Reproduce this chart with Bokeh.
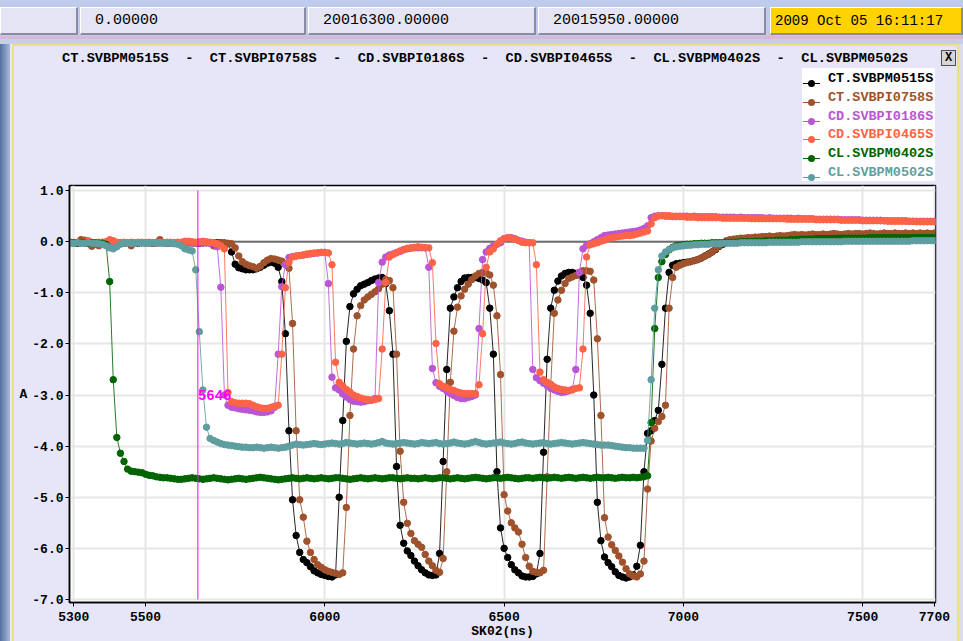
from bokeh.plotting import figure
from bokeh.models import (Range1d, FixedTicker, Label, Div,
                          ColumnDataSource, Span, PrintfTickFormatter)
from bokeh.layouts import column
from bokeh.embed import file_html
from bokeh.resources import INLINE

# ---------------- data ----------------
t_ns = list(range(5290, 7701, 10))

names = ["CT.SVBPM0515S", "CT.SVBPI0758S", "CD.SVBPI0186S",
         "CD.SVBPI0465S", "CL.SVBPM0402S", "CL.SVBPM0502S"]

ct0515 = [
    -0.02,-0.02,-0.03,-0.02,-0.02,-0.02,-0.03,-0.02,-0.02,-0.02,
    -0.02,-0.03,-0.02,-0.02,-0.02,-0.03,-0.02,-0.02,-0.02,-0.03,
    -0.02,-0.02,-0.02,-0.03,-0.02,-0.02,-0.02,-0.03,-0.02,-0.02,
    -0.02,-0.02,-0.03,-0.02,-0.02,-0.02,-0.03,-0.02,-0.02,-0.02,
    -0.02,-0.02,-0.02,-0.03,-0.04,-0.20,-0.44,-0.51,-0.53,-0.55,
    -0.55,-0.55,-0.53,-0.50,-0.46,-0.42,-0.40,-0.42,-0.50,-0.78,
    -1.80,-3.70,-5.05,-5.75,-6.08,-6.22,-6.28,-6.36,-6.44,-6.48,
    -6.51,-6.53,-6.55,-6.56,-6.52,-5.00,-3.50,-1.95,-1.27,-1.02,
    -0.93,-0.86,-0.83,-0.80,-0.76,-0.73,-0.71,-0.70,-0.82,-1.35,
    -2.20,-4.40,-5.55,-5.90,-6.05,-6.14,-6.25,-6.34,-6.42,-6.48,
    -6.52,-6.53,-6.52,-6.10,-4.30,-2.50,-1.30,-1.08,-0.90,-0.78,
    -0.71,-0.70,-0.70,-0.70,-0.72,-0.75,-0.80,-1.30,-2.20,-4.50,
    -5.60,-6.00,-6.18,-6.32,-6.42,-6.48,-6.54,-6.56,-6.56,-6.55,
    -6.50,-6.10,-4.12,-2.30,-1.30,-0.95,-0.77,-0.67,-0.62,-0.60,
    -0.60,-0.62,-0.65,-0.70,-0.85,-1.40,-3.00,-5.10,-5.85,-6.17,
    -6.28,-6.36,-6.46,-6.53,-6.56,-6.58,-6.56,-6.52,-6.35,-5.94,
    -4.50,-3.75,-3.70,-3.50,-3.30,-2.40,-1.30,-0.60,-0.46,-0.43,
    -0.42,-0.41,-0.40,-0.39,-0.37,-0.35,-0.32,-0.28,-0.24,-0.20,
    -0.15,-0.09,-0.05,-0.02,0.00,0.01,0.02,0.02,0.03,0.03,
    0.04,0.04,0.05,0.05,0.06,0.06,0.06,0.07,0.07,0.07,
    0.08,0.08,0.08,0.09,0.09,0.09,0.09,0.10,0.10,0.10,
    0.10,0.10,0.11,0.11,0.11,0.11,0.11,0.12,0.12,0.12,
    0.12,0.12,0.12,0.12,0.13,0.13,0.13,0.13,0.13,0.13,
    0.13,0.13,0.13,0.14,0.14,0.14,0.14,0.14,0.14,0.14,
    0.14,0.14]

ct0758 = [
    -0.02,-0.03,-0.02,0.04,0.03,-0.03,-0.09,-0.05,-0.08,-0.03,
    -0.02,-0.02,-0.03,-0.02,-0.02,-0.03,-0.02,-0.08,-0.03,-0.02,
    -0.02,-0.03,-0.02,-0.02,-0.02,0.04,-0.02,-0.02,-0.03,-0.02,
    -0.02,-0.02,-0.03,-0.02,-0.02,-0.03,-0.02,-0.02,-0.02,-0.03,
    -0.08,-0.03,-0.02,-0.02,-0.03,-0.04,-0.12,-0.28,-0.39,-0.44,
    -0.47,-0.49,-0.52,-0.48,-0.41,-0.36,-0.33,-0.34,-0.36,-0.38,
    -0.43,-0.52,-1.60,-3.70,-5.05,-5.39,-5.86,-6.08,-6.22,-6.32,
    -6.37,-6.42,-6.45,-6.47,-6.49,-6.51,-6.48,-5.20,-3.40,-2.10,
    -1.45,-1.25,-1.14,-1.08,-1.03,-0.98,-0.92,-0.83,-0.74,-0.76,
    -0.90,-2.20,-4.10,-5.10,-5.51,-5.71,-5.85,-5.92,-5.98,-6.12,
    -6.25,-6.34,-6.43,-6.47,-6.20,-4.50,-2.75,-1.75,-1.28,-1.06,
    -0.93,-0.83,-0.74,-0.67,-0.62,-0.60,-0.61,-0.65,-0.85,-1.45,
    -2.60,-4.95,-5.27,-5.50,-5.60,-5.68,-5.92,-6.18,-6.35,-6.45,
    -6.47,-6.48,-6.43,-4.60,-2.80,-1.40,-1.14,-0.95,-0.82,-0.72,
    -0.69,-0.66,-0.60,-0.57,-0.57,-0.58,-0.75,-1.90,-3.40,-5.40,
    -5.78,-5.93,-6.04,-6.15,-6.27,-6.40,-6.50,-6.54,-6.56,-6.50,
    -6.25,-4.84,-3.90,-3.65,-3.52,-3.42,-3.20,-1.30,-0.70,-0.50,
    -0.46,-0.43,-0.41,-0.39,-0.37,-0.35,-0.32,-0.28,-0.25,-0.20,
    -0.14,-0.08,-0.02,0.02,0.04,0.05,0.06,0.07,0.07,0.08,
    0.08,0.09,0.09,0.10,0.10,0.11,0.10,0.11,0.12,0.11,
    0.12,0.13,0.14,0.13,0.14,0.13,0.14,0.15,0.14,0.14,
    0.15,0.14,0.15,0.16,0.15,0.14,0.15,0.16,0.15,0.16,
    0.16,0.15,0.16,0.17,0.16,0.15,0.16,0.17,0.16,0.16,
    0.17,0.16,0.16,0.17,0.16,0.17,0.16,0.17,0.16,0.17,
    0.16,0.17]

cd0186 = [
    -0.02,-0.03,-0.02,-0.02,-0.03,-0.02,-0.02,-0.03,-0.02,-0.02,
    -0.02,-0.03,-0.02,-0.02,-0.03,-0.02,-0.02,-0.03,-0.02,-0.02,
    -0.02,-0.03,-0.02,-0.02,-0.03,-0.02,-0.02,-0.03,-0.02,-0.02,
    -0.02,-0.03,-0.02,-0.02,-0.03,-0.02,-0.02,-0.03,-0.02,-0.03,
    -0.03,-0.10,-0.89,-3.00,-3.20,-3.24,-3.25,-3.27,-3.28,-3.29,
    -3.30,-3.31,-3.33,-3.34,-3.34,-3.33,-3.31,-3.24,-2.20,-0.88,
    -0.45,-0.31,-0.29,-0.28,-0.27,-0.26,-0.25,-0.24,-0.23,-0.22,
    -0.21,-0.21,-0.82,-2.65,-2.86,-2.90,-2.98,-3.04,-3.09,-3.12,
    -3.13,-3.14,-3.13,-3.11,-3.10,-3.07,-0.80,-0.40,-0.30,-0.26,
    -0.24,-0.21,-0.19,-0.16,-0.14,-0.13,-0.12,-0.12,-0.12,-0.12,
    -0.50,-2.48,-2.76,-2.83,-2.87,-2.92,-2.97,-3.01,-3.05,-3.07,
    -3.07,-3.05,-3.03,-3.00,-1.70,-0.35,-0.20,-0.13,-0.08,-0.05,
    -0.02,0.06,0.08,0.08,0.06,0.03,0.01,-0.01,-0.02,-2.50,
    -2.66,-2.72,-2.77,-2.82,-2.87,-2.90,-2.93,-2.95,-2.94,-2.92,
    -2.89,-2.50,-0.60,-0.14,-0.07,-0.04,0.00,0.04,0.08,0.12,
    0.13,0.14,0.15,0.16,0.17,0.18,0.19,0.20,0.21,0.23,
    0.26,0.31,0.47,0.50,0.51,0.51,0.50,0.50,0.49,0.49,
    0.50,0.50,0.50,0.49,0.50,0.49,0.49,0.49,0.49,0.49,
    0.49,0.48,0.48,0.48,0.48,0.48,0.47,0.48,0.47,0.47,
    0.47,0.47,0.47,0.47,0.46,0.47,0.46,0.46,0.46,0.46,
    0.46,0.46,0.45,0.46,0.45,0.45,0.45,0.45,0.44,0.44,
    0.44,0.44,0.44,0.44,0.44,0.43,0.43,0.43,0.43,0.43,
    0.43,0.42,0.42,0.42,0.42,0.42,0.42,0.41,0.41,0.41,
    0.41,0.41,0.41,0.41,0.40,0.40,0.40,0.40,0.40,0.40,
    0.40,0.40]

cd0465 = [
    -0.01,-0.02,-0.01,-0.02,-0.01,0.02,-0.01,-0.02,-0.01,-0.01,
    0.00,0.04,0.02,-0.01,-0.02,-0.01,-0.02,-0.01,-0.02,-0.01,
    -0.01,-0.02,-0.01,-0.02,-0.01,-0.01,-0.02,-0.01,-0.01,-0.02,
    -0.01,-0.01,0.01,0.01,0.00,-0.01,0.00,0.01,0.00,-0.01,
    -0.02,-0.04,-0.08,-0.14,-2.95,-3.13,-3.15,-3.16,-3.16,-3.16,
    -3.17,-3.20,-3.23,-3.25,-3.26,-3.26,-3.24,-3.22,-3.20,-2.20,
    -0.90,-0.40,-0.30,-0.28,-0.27,-0.26,-0.24,-0.23,-0.22,-0.22,
    -0.21,-0.21,-0.22,-0.45,-2.36,-2.75,-2.82,-2.89,-2.94,-3.00,
    -3.03,-3.06,-3.08,-3.09,-3.10,-3.09,-3.07,-2.10,-0.80,-0.30,
    -0.25,-0.22,-0.18,-0.15,-0.13,-0.12,-0.11,-0.10,-0.11,-0.12,
    -0.12,-0.41,-1.99,-2.78,-2.83,-2.86,-2.89,-2.91,-2.94,-2.96,
    -2.97,-2.97,-2.97,-2.97,-2.80,-1.80,-0.50,-0.20,-0.14,-0.05,
    0.02,0.06,0.08,0.07,0.05,0.02,-0.01,-0.02,-0.02,-0.02,
    -0.45,-2.55,-2.70,-2.75,-2.79,-2.84,-2.87,-2.89,-2.90,-2.91,
    -2.90,-2.87,-2.86,-2.10,-0.30,-0.06,-0.04,-0.02,0.01,0.03,
    0.06,0.08,0.09,0.10,0.11,0.12,0.12,0.13,0.15,0.17,
    0.19,0.21,0.35,0.47,0.50,0.51,0.51,0.51,0.50,0.50,
    0.49,0.49,0.48,0.48,0.48,0.47,0.47,0.47,0.47,0.47,
    0.47,0.47,0.46,0.46,0.46,0.46,0.46,0.46,0.46,0.46,
    0.45,0.45,0.45,0.45,0.45,0.45,0.45,0.45,0.45,0.45,
    0.44,0.44,0.44,0.44,0.44,0.44,0.44,0.44,0.43,0.43,
    0.43,0.43,0.43,0.43,0.43,0.42,0.42,0.42,0.42,0.42,
    0.42,0.41,0.41,0.41,0.41,0.41,0.41,0.41,0.40,0.40,
    0.40,0.40,0.40,0.40,0.40,0.40,0.39,0.39,0.39,0.39,
    0.39,0.39]

cl0402 = [
    -0.02,-0.02,-0.03,-0.02,-0.02,-0.03,-0.02,-0.02,-0.03,-0.03,
    -0.05,-0.78,-2.70,-3.83,-4.14,-4.30,-4.45,-4.49,-4.50,-4.51,
    -4.52,-4.55,-4.57,-4.58,-4.60,-4.61,-4.62,-4.62,-4.63,-4.64,
    -4.65,-4.65,-4.64,-4.63,-4.62,-4.63,-4.64,-4.65,-4.64,-4.63,
    -4.62,-4.63,-4.64,-4.65,-4.66,-4.65,-4.64,-4.63,-4.64,-4.65,
    -4.64,-4.63,-4.62,-4.61,-4.62,-4.63,-4.64,-4.65,-4.66,-4.65,
    -4.64,-4.63,-4.62,-4.63,-4.64,-4.63,-4.62,-4.63,-4.64,-4.63,
    -4.62,-4.63,-4.64,-4.63,-4.62,-4.62,-4.63,-4.64,-4.65,-4.64,
    -4.63,-4.62,-4.63,-4.64,-4.63,-4.62,-4.63,-4.64,-4.63,-4.62,
    -4.62,-4.63,-4.64,-4.63,-4.62,-4.63,-4.63,-4.64,-4.63,-4.62,
    -4.63,-4.64,-4.63,-4.62,-4.62,-4.63,-4.64,-4.63,-4.62,-4.63,
    -4.64,-4.63,-4.62,-4.61,-4.62,-4.63,-4.64,-4.63,-4.62,-4.62,
    -4.63,-4.62,-4.61,-4.62,-4.63,-4.64,-4.63,-4.62,-4.62,-4.63,
    -4.62,-4.61,-4.62,-4.63,-4.62,-4.61,-4.62,-4.63,-4.62,-4.61,
    -4.62,-4.63,-4.62,-4.61,-4.62,-4.63,-4.62,-4.61,-4.62,-4.62,
    -4.61,-4.62,-4.63,-4.62,-4.61,-4.62,-4.62,-4.61,-4.62,-4.61,
    -4.60,-4.58,-3.54,-1.70,-0.70,-0.39,-0.25,-0.16,-0.11,-0.08,
    -0.07,-0.06,-0.05,-0.05,-0.04,-0.04,-0.03,-0.03,-0.03,-0.02,
    -0.02,-0.02,-0.02,-0.01,-0.01,-0.01,-0.01,0.00,0.00,0.00,
    0.00,0.01,0.01,0.01,0.02,0.02,0.02,0.03,0.03,0.03,
    0.03,0.04,0.04,0.04,0.05,0.05,0.05,0.05,0.06,0.06,
    0.06,0.06,0.06,0.06,0.07,0.07,0.07,0.07,0.07,0.07,
    0.07,0.07,0.07,0.08,0.08,0.08,0.08,0.08,0.08,0.08,
    0.08,0.08,0.08,0.08,0.08,0.08,0.08,0.08,0.08,0.08,
    0.08,0.08]

cl0502 = [
    -0.03,-0.03,-0.02,-0.03,-0.03,-0.02,-0.03,-0.03,-0.04,-0.05,
    -0.08,-0.12,-0.14,-0.10,-0.05,-0.03,-0.02,-0.03,-0.03,-0.02,
    -0.02,-0.03,-0.03,-0.02,-0.02,-0.03,-0.03,-0.02,-0.03,-0.04,
    -0.05,-0.08,-0.14,-0.16,-0.18,-0.55,-1.76,-2.90,-3.63,-3.85,
    -3.89,-3.92,-3.95,-3.97,-3.98,-3.99,-4.00,-4.01,-4.02,-4.02,
    -4.03,-4.03,-4.02,-4.03,-4.04,-4.03,-4.02,-4.03,-4.04,-4.03,
    -4.02,-4.00,-3.98,-3.96,-3.97,-3.98,-3.97,-3.96,-3.95,-3.96,
    -3.97,-3.96,-3.95,-3.94,-3.95,-3.96,-3.95,-3.93,-3.94,-3.95,
    -3.96,-3.95,-3.94,-3.95,-3.96,-3.95,-3.93,-3.91,-3.94,-3.95,
    -3.96,-3.95,-3.94,-3.93,-3.94,-3.95,-3.96,-3.95,-3.93,-3.94,
    -3.95,-3.94,-3.93,-3.95,-3.96,-3.95,-3.94,-3.92,-3.94,-3.95,
    -3.96,-3.95,-3.93,-3.91,-3.93,-3.95,-3.96,-3.95,-3.94,-3.93,
    -3.92,-3.94,-3.95,-3.96,-3.95,-3.93,-3.92,-3.94,-3.95,-3.96,
    -3.95,-3.94,-3.93,-3.95,-3.96,-3.95,-3.94,-3.93,-3.94,-3.95,
    -3.96,-3.95,-3.94,-3.93,-3.94,-3.95,-3.96,-3.97,-3.98,-3.98,
    -3.98,-3.99,-4.00,-4.01,-4.02,-4.03,-4.03,-4.04,-4.04,-4.04,
    -4.04,-3.89,-2.70,-1.30,-0.55,-0.28,-0.20,-0.15,-0.12,-0.10,
    -0.09,-0.08,-0.07,-0.07,-0.06,-0.06,-0.05,-0.05,-0.05,-0.04,
    -0.04,-0.04,-0.03,-0.03,-0.03,-0.03,-0.03,-0.02,-0.02,-0.02,
    -0.02,-0.02,-0.02,-0.02,-0.02,-0.01,-0.01,-0.01,-0.01,-0.01,
    -0.01,-0.01,-0.01,-0.01,0.00,0.00,0.00,0.00,0.00,0.00,
    0.00,0.00,0.00,0.00,0.00,0.00,0.01,0.01,0.01,0.01,
    0.01,0.01,0.01,0.01,0.01,0.01,0.01,0.01,0.01,0.01,
    0.01,0.01,0.01,0.01,0.01,0.02,0.02,0.02,0.02,0.02,
    0.02,0.02]

series = [ct0515, ct0758, cd0186, cd0465, cl0402, cl0502]
for s in series:
    assert len(s) == len(t_ns), len(s)

x_ticks = [5300, 5500, 6000, 6500, 7000, 7500, 7700]
y_ticks = [-7, -6, -5, -4, -3, -2, -1, 0, 1]
cursor_t = 5646

bar_values = ["", "0.00000", "20016300.00000", "20015950.00000"]
stamp = "2009 Oct 05 16:11:17"
x_label = "SK02(ns)"
y_label = "A"

# ---------------- styles ----------------
colors = ["#000000", "#a0522d", "#ba55d3", "#ff6347", "#006400", "#5f9ea0"]
MONO = "Liberation Mono"
PANEL = "#e6e6f8"
SIDE_BG = ("linear-gradient(to right, #52709f 0px, #a9bbdc 10px, #e6e6f8 10px, "
           "#e6e6f8 12px, #ece27a 12px, #ece27a 14px, #e6e6f8 14px, "
           "#e6e6f8 957px, #ece27a 957px, #ece27a 959px, #dcdcec 959px)")

# ---------------- header: tool bar, heading, close box, legend ----------------
def box(left, width, text, bg, fs, pad):
    return ('<div style="position:absolute;left:%dpx;top:7px;width:%dpx;height:28px;'
            'background:%s;border-top:1px solid #ffffff;border-left:1px solid #ffffff;'
            'border-bottom:2px solid #8a8aa0;border-right:2px solid #8a8aa0;'
            'font-size:%dpx;line-height:26px;padding-left:%dpx;box-sizing:border-box;'
            'white-space:nowrap;overflow:hidden;color:#000">%s</div>') % (left, width, bg, fs, pad, text)

ROW = 18.8
legend_rows = ""
for k, (name, col) in enumerate(zip(names, colors)):
    top = k * ROW
    legend_rows += (
        '<div style="position:absolute;left:0;top:%.1fpx;width:133px;height:%.1fpx">'
        '<div style="position:absolute;left:1px;top:15px;width:17px;height:1px;background:%s"></div>'
        '<div style="position:absolute;left:6px;top:12px;width:7px;height:7px;border-radius:50%%;background:%s"></div>'
        '<div style="position:absolute;left:26px;top:2px;line-height:%.1fpx;white-space:pre;'
        'font-weight:bold;font-size:13.5px;color:%s">%s</div></div>'
    ) % (top, ROW, col, col, ROW - 1, col, name)

header_html = (
    '<div style="position:relative;width:963px;height:181px;overflow:hidden;'
    'font-family:\'Liberation Mono\',monospace;background:%s">' % SIDE_BG
    + '<div style="position:absolute;left:0;top:0;width:963px;height:36px;background:#bfcbea"></div>'
    + box(0, 78, bar_values[0], "#e4e4f4", 15, 14)
    + box(80, 226, bar_values[1], "#e4e4f4", 15, 14)
    + box(308, 228, bar_values[2], "#e4e4f4", 15, 14)
    + box(538, 228, bar_values[3], "#e4e4f4", 15, 14)
    + box(770, 193, stamp, "#ffd200", 14, 4)
    + '<div style="position:absolute;left:0;top:36px;width:963px;height:3px;background:#d6b8d8"></div>'
    + '<div style="position:absolute;left:0;top:39px;width:963px;height:5px;background:#c9cde6"></div>'
    + '<div style="position:absolute;left:12px;top:44px;width:947px;height:2px;background:#ece27a"></div>'
    + '<div style="position:absolute;left:62px;top:51px;white-space:pre;font-weight:bold;'
      'font-size:13.7px;line-height:16px;color:#000">' + "  -  ".join(names) + '</div>'
    + '<div style="position:absolute;left:941px;top:50px;width:15px;height:16px;box-sizing:border-box;'
      'border:1px solid #505050;background:#d6d6d6;font-weight:bold;font-size:12px;'
      'line-height:14px;text-align:center;color:#000">X</div>'
    + '<div style="position:absolute;left:802px;top:68px;width:133px;height:113px;background:#ffffff">'
    + legend_rows + '</div>'
    + '</div>')
header = Div(text=header_html, width=963, height=181, margin=0)

# ---------------- figure ----------------
p = figure(width=963, height=460,
           x_range=Range1d(5288, 7703), y_range=Range1d(-7.06, 1.10),
           output_backend="svg", toolbar_location=None,
           min_border_left=69, min_border_right=28,
           min_border_top=4, min_border_bottom=39,
           background_fill_color="white",
           border_fill_color=PANEL, border_fill_alpha=0.0,
           outline_line_color="black", outline_line_width=1.5,
           styles={"background": SIDE_BG})

p.xaxis.ticker = FixedTicker(ticks=x_ticks, minor_ticks=[])
p.yaxis.ticker = FixedTicker(ticks=y_ticks, minor_ticks=[])
p.yaxis.formatter = PrintfTickFormatter(format="%.1f")
for ax in (p.xaxis, p.yaxis):
    ax.major_label_text_font = MONO
    ax.major_label_text_font_style = "bold"
    ax.major_label_text_font_size = "13px"
    ax.major_label_text_color = "black"
    ax.axis_line_color = "black"
    ax.axis_line_width = 1.5
    ax.major_tick_line_color = "black"
    ax.major_tick_out = 4
    ax.major_tick_in = 0
    ax.axis_label_text_font = MONO
    ax.axis_label_text_font_style = "bold"
    ax.axis_label_text_font_size = "13px"
    ax.axis_label_text_color = "black"
p.xaxis.major_label_standoff = 5
p.yaxis.major_label_standoff = 2
p.xaxis.axis_label = x_label
p.xaxis.axis_label_standoff = 0
p.yaxis.axis_label = y_label
p.yaxis.axis_label_orientation = "horizontal"
p.yaxis.axis_label_standoff = 2

p.grid.grid_line_color = "#e6e6e6"
p.grid.grid_line_width = 2

p.add_layout(Span(location=0, dimension="width", line_color="#6e6e6e",
                  line_width=2, level="underlay"))

for col, ys in zip(colors, series):
    src = ColumnDataSource(dict(t=t_ns, v=ys))
    p.line("t", "v", source=src, line_color=col, line_width=1, line_alpha=0.85)
    p.scatter("t", "v", source=src, size=6.5, fill_color=col, line_color=col)

# cursor
p.segment(x0=[cursor_t], y0=[1.0], x1=[cursor_t], y1=[-7.0],
          line_color="#ff00ff", line_width=1)
p.add_layout(Label(x=cursor_t, y=-3.0, text=str(cursor_t), text_color="#ff00ff",
                   text_font=MONO, text_font_style="bold", text_font_size="14px",
                   text_align="left", text_baseline="middle"))

layout = column(header, p, spacing=0)
open("out.html", "w").write(file_html(layout, INLINE))
